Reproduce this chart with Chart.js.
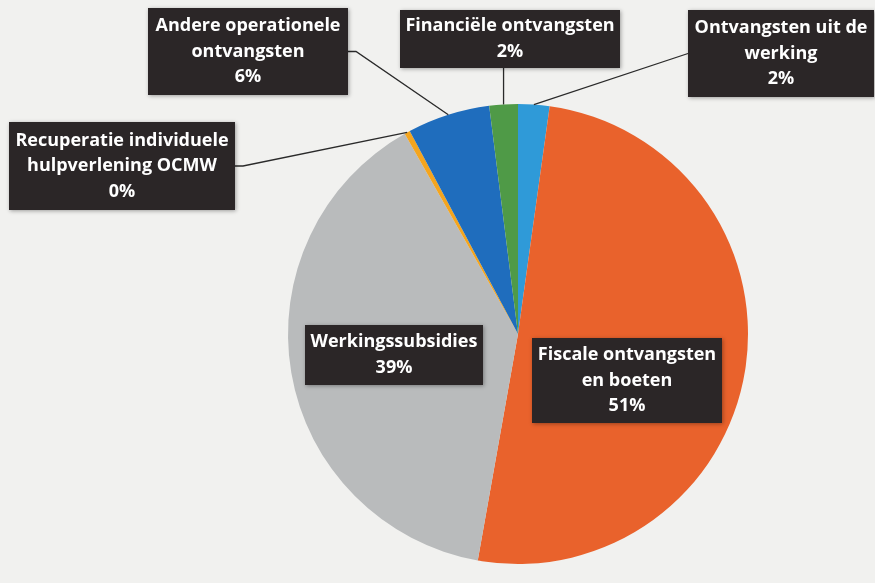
<!DOCTYPE html>
<html>
<head>
<meta charset="utf-8">
<script src="https://cdn.jsdelivr.net/npm/chart.js@4"></script>
<style>
  html, body { margin: 0; padding: 0; background: #f1f1ef; }
  #wrap { width: 875px; height: 583px; }
</style>
</head>
<body>
<div id="wrap"><canvas id="pie" width="875" height="583"></canvas></div>
<script>
// categories, clockwise from 12 o'clock
const categories = [
  ['Ontvangsten uit de', 'werking'],
  ['Fiscale ontvangsten', 'en boeten'],
  ['Werkingssubsidies'],
  ['Recuperatie individuele', 'hulpverlening OCMW'],
  ['Andere operationele', 'ontvangsten'],
  ['Financiële ontvangsten']
];
const shares = [2.2, 50.6, 39.0, 0.4, 5.8, 2.0];
const sliceColors = ['#2f9ad8', '#e9622c', '#b9bbbc', '#f4a51f', '#1f6dbd', '#4f9a47'];

// label box layout (x, y, w, h) and where the leader line leaves the box
const labelBoxes = [
  { x: 688, y: 10, w: 186, h: 87, leader: 'left' },
  { x: 532, y: 338, w: 190, h: 85, leader: null },
  { x: 305, y: 325, w: 178, h: 60, leader: null },
  { x: 9, y: 122, w: 226, h: 88, leader: 'right' },
  { x: 148, y: 8, w: 200, h: 87, leader: 'right' },
  { x: 400, y: 10, w: 220, h: 58, leader: 'bottom' }
];

const total = shares.reduce((a, b) => a + b, 0);

const boxLabels = {
  id: 'boxLabels',
  beforeDraw(chart) {
    const ctx = chart.ctx;
    ctx.save();
    ctx.fillStyle = '#f1f1ef';
    ctx.fillRect(0, 0, chart.width, chart.height);
    ctx.restore();
  },
  afterDatasetsDraw(chart) {
    const ctx = chart.ctx;
    const arcs = chart.getDatasetMeta(0).data;
    ctx.save();
    // leader lines
    ctx.strokeStyle = '#2a2a2a';
    ctx.lineWidth = 1.3;
    arcs.forEach((arc, i) => {
      const b = labelBoxes[i];
      if (!b.leader) return;
      const mid = (arc.startAngle + arc.endAngle) / 2;
      const px = arc.x + Math.cos(mid) * arc.outerRadius;
      const py = arc.y + Math.sin(mid) * arc.outerRadius;
      ctx.beginPath();
      if (b.leader === 'bottom') {
        ctx.moveTo(px, b.y + b.h);
        ctx.lineTo(px, py);
      } else if (b.leader === 'right') {
        ctx.moveTo(b.x + b.w, b.y + b.h / 2);
        ctx.lineTo(b.x + b.w + 8, b.y + b.h / 2);
        ctx.lineTo(px, py);
      } else {
        ctx.moveTo(b.x, b.y + b.h / 2);
        ctx.lineTo(px, py);
      }
      ctx.stroke();
    });
    // boxes and text
    arcs.forEach((arc, i) => {
      const b = labelBoxes[i];
      ctx.shadowColor = 'rgba(0,0,0,0.35)';
      ctx.shadowBlur = 4;
      ctx.shadowOffsetX = 1;
      ctx.shadowOffsetY = 1;
      ctx.fillStyle = '#2b2627';
      ctx.fillRect(b.x, b.y, b.w, b.h);
      ctx.shadowColor = 'transparent';
      const lines = categories[i].concat([Math.round(shares[i] / total * 100) + '%']);
      ctx.fillStyle = '#ffffff';
      ctx.font = 'bold 18px "Open Sans"';
      ctx.textAlign = 'center';
      ctx.textBaseline = 'middle';
      const lh = 25.5;
      const cy = b.y + b.h / 2 - (lines.length - 1) * lh / 2;
      lines.forEach((t, k) => ctx.fillText(t, b.x + b.w / 2, cy + k * lh));
    });
    ctx.restore();
  }
};

new Chart(document.getElementById('pie'), {
  type: 'pie',
  data: {
    labels: categories.map(c => c.join(' ')),
    datasets: [{
      data: shares,
      backgroundColor: sliceColors,
      borderWidth: 0,
      hoverOffset: 0
    }]
  },
  options: {
    responsive: false,
    animation: false,
    layout: { padding: { left: 288, right: 127, top: 104, bottom: 19 } },
    plugins: {
      legend: { display: false },
      tooltip: { enabled: false }
    }
  },
  plugins: [boxLabels]
});
</script>
</body>
</html>
